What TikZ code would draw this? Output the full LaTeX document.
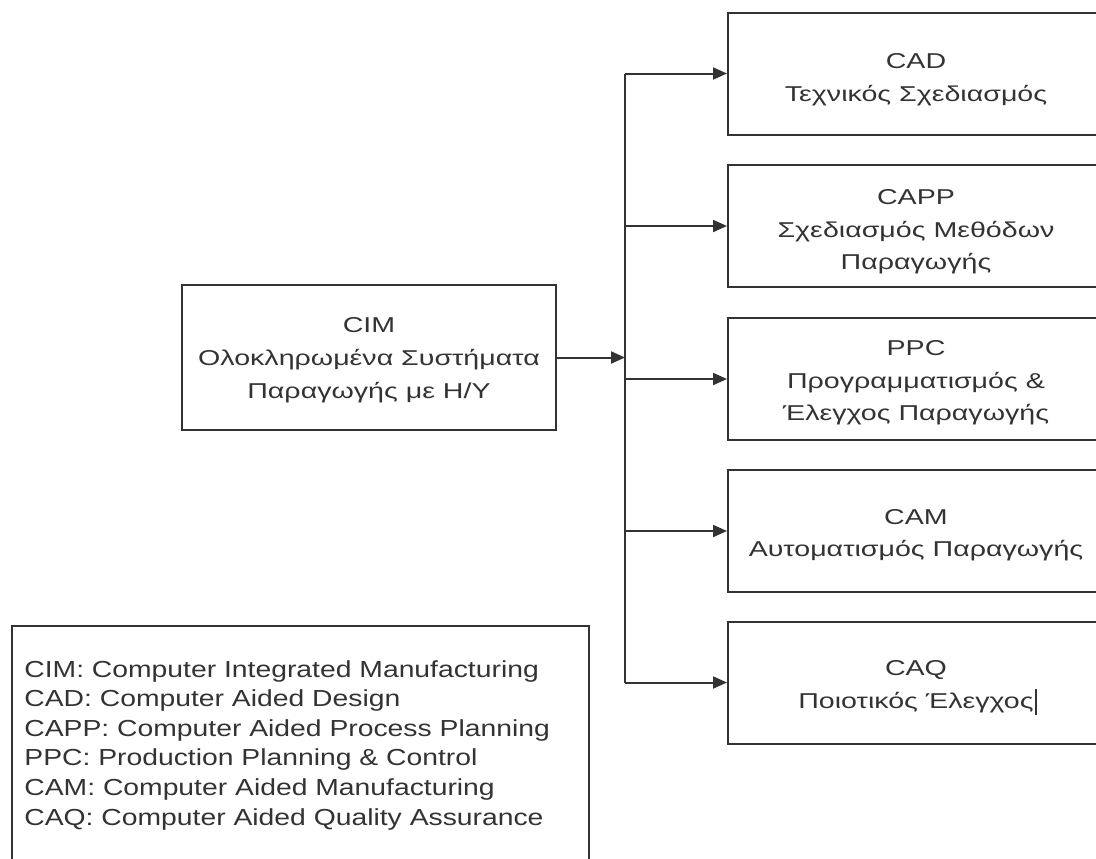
\documentclass[tikz,border=0pt]{standalone}
\usepackage{fontspec}
\setmainfont{Liberation Sans}[FakeStretch=1.22]
\newfontfamily\boxfont{Liberation Sans}[FakeStretch=1.33]
\usetikzlibrary{arrows.meta}
\definecolor{ink}{HTML}{333333}
\begin{document}
\begin{tikzpicture}[x=0.5pt,y=-0.5pt,
  ink/.style={draw=ink,line width=1pt},
  boxnode/.style={ink,rectangle,inner sep=0pt},
  subbox/.style={boxnode,minimum width=188pt,minimum height=61pt},
  boxtext/.style={align=center,text=ink,inner sep=0pt,
    font=\boxfont\fontsize{10.75pt}{16.25pt}\selectfont},
  arr/.style={ink,-{Triangle[length=7pt,width=6pt]}}]
\clip (0,0) rectangle (1096,858);

% main system
\node[boxnode,minimum width=187pt,minimum height=72.5pt] (cim) at (369,357.5) {};
\node[boxtext,font=\boxfont\fontsize{10.75pt}{16.5pt}\selectfont] (cimtext)
  at ([yshift=-1.5pt]cim.center) {CIM\\Ολοκληρωμένα Συστήματα\\Παραγωγής με Η/Υ};

% subsystems
\node[subbox] (cad)  at (916,73.5)  {};
\node[subbox] (capp) at (916,226)   {};
\node[subbox] (ppc)  at (916,379)   {};
\node[subbox] (cam)  at (916,531)   {};
\node[subbox] (caq)  at (916,682.5) {};
\node[boxtext] (cadtext)  at ([yshift=-3pt]cad.center)  {CAD\\Τεχνικός Σχεδιασμός};
\node[boxtext] (capptext) at ([yshift=-3pt]capp.center) {CAPP\\Σχεδιασμός Μεθόδων\\Παραγωγής};
\node[boxtext] (ppctext)  at ([yshift=-2pt]ppc.center)  {PPC\\Προγραμματισμός \&\\Έλεγχος Παραγωγής};
\node[boxtext] (camtext)  at ([yshift=-2pt]cam.center)  {CAM\\Αυτοματισμός Παραγωγής};
\node[boxtext] (caqtext)  at ([yshift=-2pt]caq.center)  {CAQ\\Ποιοτικός Έλεγχος};
% text caret left in the last box
\draw[ink,line width=0.8pt] ([xshift=1pt,yshift=-1pt]caqtext.south east) -- ++(0,-26);

% distribution bus
\coordinate (bustop) at (625,73.5);
\coordinate (busbot) at (625,682.5);
\draw[ink] (bustop) -- (busbot);
\draw[arr] (cim.east) -- (cim.east -| bustop);
\draw[arr] (bustop) -- (cad.west);
\draw[arr] (bustop |- capp.west) -- (capp.west);
\draw[arr] (bustop |- ppc.west) -- (ppc.west);
\draw[arr] (bustop |- cam.west) -- (cam.west);
\draw[arr] (busbot) -- (caq.west);

% abbreviations
\node[ink,rectangle,anchor=north west,minimum width=288.5pt,minimum height=130pt,inner sep=0pt] (legend) at (11,625) {};
\node[anchor=west,align=left,text=ink,inner sep=0pt,
  font=\fontsize{11.6pt}{14.8pt}\selectfont] (legendtext) at (24,745)
  {CIM: Computer Integrated Manufacturing\\
   CAD: Computer Aided Design\\
   CAPP: Computer Aided Process Planning\\
   PPC: Production Planning \& Control\\
   CAM: Computer Aided Manufacturing\\
   CAQ: Computer Aided Quality Assurance};
\end{tikzpicture}
\end{document}
